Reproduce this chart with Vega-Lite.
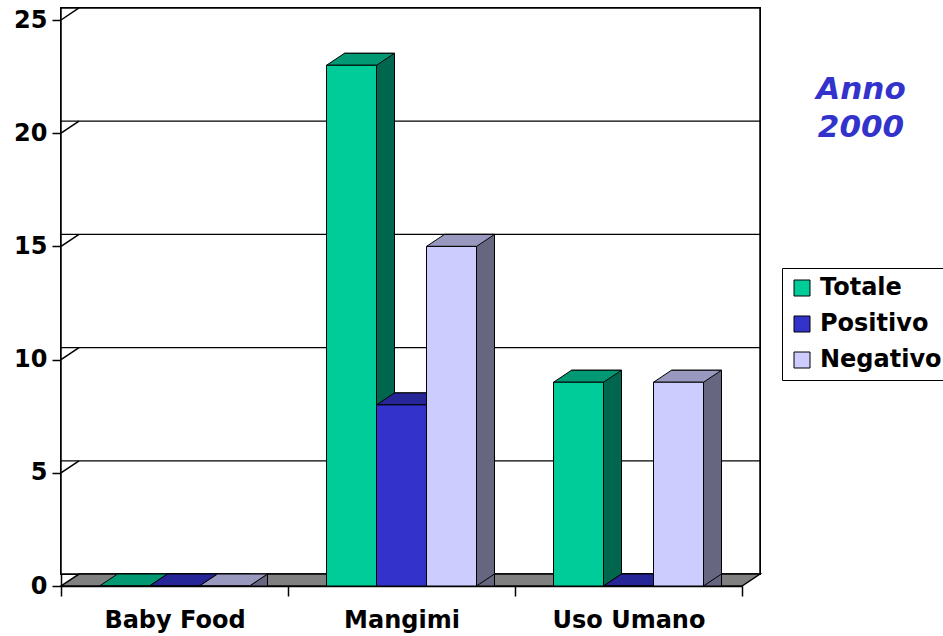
{
  "$schema": "https://vega.github.io/schema/vega-lite/v6.json",
  "width": 681,
  "height": 566,
  "autosize": {"type": "none"},
  "padding": {"left": 61, "top": 20, "right": 201, "bottom": 50},
  "background": "white",
  "config": {"view": {"stroke": null}, "font": "DejaVu Sans"},
  "title": {
    "text": ["Anno", "2000"],
    "orient": "top",
    "anchor": "end",
    "frame": "group",
    "align": "center",
    "baseline": "top",
    "dx": 119,
    "dy": 139,
    "offset": 0,
    "font": "DejaVu Sans",
    "fontSize": 31,
    "fontStyle": "italic",
    "fontWeight": "bold",
    "color": "#3333CC",
    "lineHeight": 38
  },
  "datasets": {
    "counts": [
      {"categoria": "Baby Food", "serie": "Totale", "valore": 0},
      {"categoria": "Baby Food", "serie": "Positivo", "valore": 0},
      {"categoria": "Baby Food", "serie": "Negativo", "valore": 0},
      {"categoria": "Mangimi", "serie": "Totale", "valore": 23},
      {"categoria": "Mangimi", "serie": "Positivo", "valore": 8},
      {"categoria": "Mangimi", "serie": "Negativo", "valore": 15},
      {"categoria": "Uso Umano", "serie": "Totale", "valore": 9},
      {"categoria": "Uso Umano", "serie": "Positivo", "valore": 0},
      {"categoria": "Uso Umano", "serie": "Negativo", "valore": 9}
    ],
    "levels": [{"v": 0}, {"v": 5}, {"v": 10}, {"v": 15}, {"v": 20}, {"v": 25}]
  },
  "resolve": {"scale": {"fill": "independent", "xOffset": "independent"}, "legend": {"fill": "independent"}},
  "layer": [
    {
      "description": "back wall of the 3D box",
      "data": {"name": "levels"},
      "mark": {"type": "rect", "fill": "white", "stroke": "black", "strokeWidth": 1.5, "xOffset": 18, "x2Offset": 18, "yOffset": -12, "y2Offset": -12},
      "encoding": {
        "y": {"datum": 25, "type": "quantitative", "scale": {"domain": [0, 25], "nice": false}, "axis": {"values": [0, 5, 10, 15, 20, 25], "grid": false, "title": null, "tickSize": 9, "tickColor": "black", "tickWidth": 1.5, "domainColor": "black", "domainWidth": 1.5, "labelFont": "DejaVu Sans", "labelFontSize": 24, "labelFontWeight": "bold", "labelColor": "black", "labelPadding": 5}},
        "y2": {"datum": 0}
      }
    },
    {
      "description": "gridlines on the back wall",
      "data": {"name": "levels"},
      "transform": [{"filter": "datum.v > 0 && datum.v < 25"}],
      "mark": {"type": "rule", "stroke": "black", "strokeWidth": 1.3, "xOffset": 18, "x2Offset": 18, "yOffset": -12},
      "encoding": {"y": {"field": "v", "type": "quantitative"}}
    },
    {
      "description": "floor",
      "data": {"name": "levels"},
      "transform": [{"filter": "datum.v == 0"}],
      "mark": {"type": "point", "filled": true, "fill": "#808080", "stroke": "black", "strokeWidth": 1.5, "opacity": 1, "size": 463761, "shape": "M-1,0L1,0L1.0529,-0.0352L-0.9471,-0.0352Z"},
      "encoding": {
        "x": {"datum": "Mangimi", "type": "nominal", "scale": {"domain": ["Baby Food", "Mangimi", "Uso Umano"], "paddingInner": 0, "paddingOuter": 0}, "axis": {"title": null, "labelAngle": 0, "tickBand": "extent", "tickSize": 10, "tickColor": "black", "tickWidth": 1.5, "domainColor": "black", "domainWidth": 1.5, "labelFont": "DejaVu Sans", "labelFontSize": 24, "labelFontWeight": "bold", "labelColor": "black", "labelPadding": 12}},
        "y": {"field": "v", "type": "quantitative"}
      }
    },
    {
      "description": "side wall edges joining the axis ticks to the back wall",
      "data": {"name": "levels"},
      "transform": [{"filter": "datum.v > 0"}],
      "mark": {"type": "point", "filled": false, "stroke": "black", "strokeWidth": 1.5, "opacity": 1, "size": 1296, "shape": "M0,0L1,-0.6667"},
      "encoding": {
        "x": {"datum": "Baby Food", "type": "nominal", "bandPosition": 0},
        "y": {"field": "v", "type": "quantitative"}
      }
    },
    {
      "description": "bar side faces: a copy of each bar pushed back by the box depth",
      "data": {"name": "counts"},
      "mark": {"type": "bar", "stroke": "black", "strokeWidth": 1, "yOffset": -12, "y2Offset": -12},
      "encoding": {
        "x": {"field": "categoria", "type": "nominal"},
        "xOffset": {"field": "serie", "type": "nominal", "scale": {"type": "band", "domain": ["Totale", "Positivo", "Negativo"], "paddingInner": 0, "paddingOuter": 0.77, "align": 0.7338}},
        "y": {"field": "valore", "type": "quantitative", "stack": null},
        "fill": {"field": "serie", "type": "nominal", "scale": {"domain": ["Totale", "Positivo", "Negativo"], "range": ["#00664D", "#1A1A66", "#666680"]}, "legend": null}
      }
    },
    {
      "description": "bottom corner of the side faces",
      "data": {"name": "counts"},
      "mark": {"type": "point", "filled": true, "stroke": "black", "strokeWidth": 1, "opacity": 1, "size": 2500, "shape": "M1,-0.5L1,0L1.72,-0.48L1.72,-0.5"},
      "encoding": {
        "x": {"field": "categoria", "type": "nominal"},
        "xOffset": {"field": "serie", "type": "nominal", "scale": {"type": "band", "domain": ["Totale", "Positivo", "Negativo"], "paddingInner": 0, "paddingOuter": 0.77}},
        "y": {"datum": 0, "type": "quantitative"},
        "fill": {"field": "serie", "type": "nominal", "scale": {"domain": ["Totale", "Positivo", "Negativo"], "range": ["#00664D", "#1A1A66", "#666680"]}, "legend": null}
      }
    },
    {
      "description": "bar top faces",
      "data": {"name": "counts"},
      "mark": {"type": "point", "filled": true, "stroke": "black", "strokeWidth": 1, "opacity": 1, "size": 2500, "shape": "M-1,0L1,0L1.72,-0.48L-0.28,-0.48Z"},
      "encoding": {
        "x": {"field": "categoria", "type": "nominal"},
        "xOffset": {"field": "serie", "type": "nominal", "scale": {"type": "band", "domain": ["Totale", "Positivo", "Negativo"], "paddingInner": 0, "paddingOuter": 0.77}},
        "y": {"field": "valore", "type": "quantitative"},
        "fill": {"field": "serie", "type": "nominal", "scale": {"domain": ["Totale", "Positivo", "Negativo"], "range": ["#009973", "#262699", "#9999BF"]}, "legend": null}
      }
    },
    {
      "description": "bar front faces",
      "data": {"name": "counts"},
      "mark": {"type": "bar", "stroke": "black", "strokeWidth": 1},
      "encoding": {
        "x": {"field": "categoria", "type": "nominal"},
        "xOffset": {"field": "serie", "type": "nominal", "scale": {"type": "band", "domain": ["Totale", "Positivo", "Negativo"], "paddingInner": 0, "paddingOuter": 0.77}},
        "y": {"field": "valore", "type": "quantitative", "stack": null},
        "fill": {
          "field": "serie", "type": "nominal",
          "scale": {"domain": ["Totale", "Positivo", "Negativo"], "range": ["#00CC99", "#3333CC", "#CCCCFF"]},
          "legend": {"title": null, "orient": "none", "legendX": 721, "legendY": 248, "strokeColor": "black", "fillColor": "white", "padding": 8, "symbolType": "square", "symbolSize": 256, "symbolStrokeColor": "black", "symbolStrokeWidth": 1, "symbolOpacity": 1, "labelFont": "DejaVu Sans", "labelFontSize": 24, "labelFontWeight": "bold", "labelColor": "black", "labelOffset": 6, "rowPadding": 12, "labelLimit": 300}
        }
      }
    }
  ]
}
